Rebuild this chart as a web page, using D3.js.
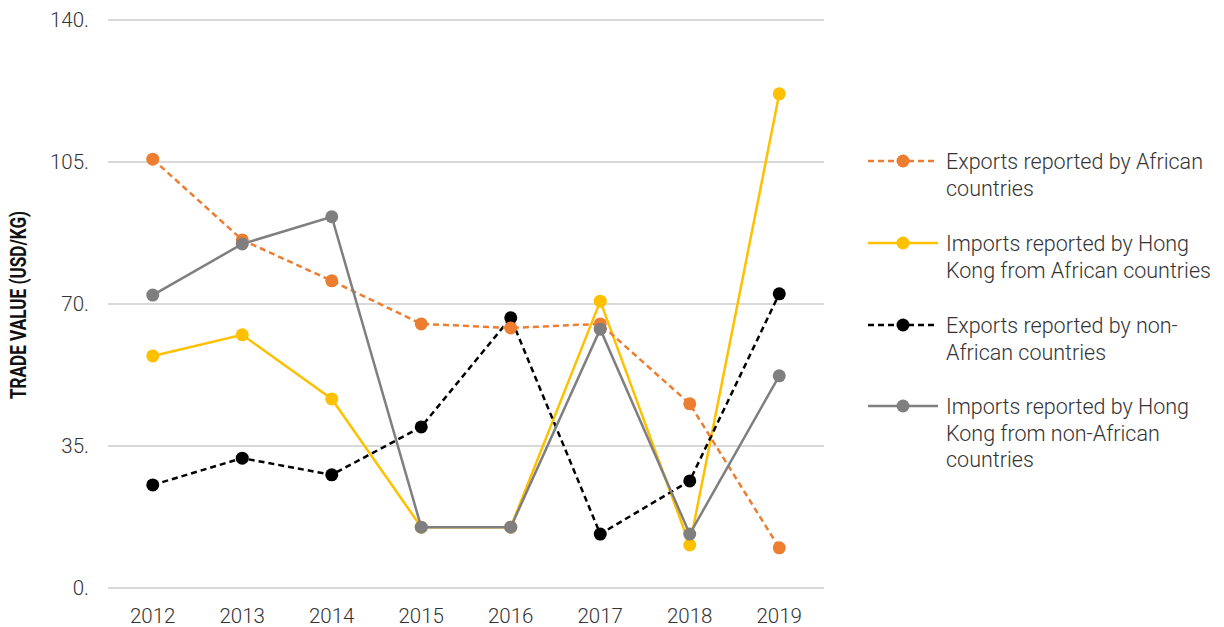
<!DOCTYPE html>
<meta charset="utf-8">
<script src="https://d3js.org/d3.v7.min.js"></script>
<style>
  body { margin: 0; background: #fff; }
  text { font-family: Roboto, "Open Sans", sans-serif; }
</style>
<div id="chart"></div>
<script>
// data
const years = ["2012", "2013", "2014", "2015", "2016", "2017", "2018", "2019"];
const exportsAfrican    = [105.7, 85.8, 75.7, 65.1, 64.1, 65.1, 45.4, 9.9];
const importsHKAfrican  = [57.2, 62.4, 46.6, 15.0, 15.0, 70.7, 10.6, 121.8];
const exportsNonAfrican = [25.4, 32.0, 27.9, 39.7, 66.6, 13.3, 26.4, 72.5];
const importsHKNonAfr   = [72.2, 84.8, 91.5, 15.0, 15.0, 63.8, 13.3, 52.3];
const yTicks = [0, 35, 70, 105, 140];

const series = [
  {name: ["Exports reported by African", "countries"], values: exportsAfrican, color: "#ED7D31", dash: "6,4"},
  {name: ["Imports reported by Hong", "Kong from African countries"], values: importsHKAfrican, color: "#FFC000", dash: null},
  {name: ["Exports reported by non-", "African countries"], values: exportsNonAfrican, color: "#000000", dash: "6,4"},
  {name: ["Imports reported by Hong", "Kong from non-African", "countries"], values: importsHKNonAfr, color: "#7F7F7F", dash: null}
];

const W = 1224, H = 627;
const svg = d3.select("#chart").append("svg")
  .attr("width", W).attr("height", H);

const x = d3.scalePoint().domain(years).range([108, 824]).padding(0.5);
const y = d3.scaleLinear().domain([0, 140]).range([588, 20]);

// grid lines
svg.append("g")
  .selectAll("line")
  .data(yTicks)
  .join("line")
    .attr("x1", 108).attr("x2", 824)
    .attr("y1", d => y(d)).attr("y2", d => y(d))
    .attr("stroke", "#d9d9d9").attr("stroke-width", 2);

// y tick labels
svg.append("g")
  .selectAll("text")
  .data(yTicks)
  .join("text")
    .attr("x", 89).attr("y", d => y(d) + 7)
    .attr("text-anchor", "end")
    .attr("font-size", 20.5).attr("font-weight", 300)
    .attr("fill", "#333")
    .text(d => d + ".");

// x labels
svg.append("g")
  .selectAll("text")
  .data(years)
  .join("text")
    .attr("x", d => x(d)).attr("y", 623)
    .attr("text-anchor", "middle")
    .attr("font-size", 20.5).attr("font-weight", 300)
    .attr("fill", "#333")
    .text(d => d);

// axis title (condensed look)
svg.append("text")
  .attr("transform", "translate(26,305) rotate(-90) scale(0.78,1)")
  .attr("text-anchor", "middle")
  .attr("font-family", "'Liberation Sans', Arial, sans-serif")
  .attr("font-weight", "bold")
  .attr("font-size", 22)
  .attr("fill", "#111")
  .text("TRADE VALUE (USD/KG)");

const line = d3.line()
  .x((d, i) => x(years[i]))
  .y(d => y(d));

// draw order: yellow, black, orange, gray
const order = [1, 2, 0, 3];
order.forEach(k => {
  const s = series[k];
  const g = svg.append("g");
  g.append("path")
    .datum(s.values)
    .attr("fill", "none")
    .attr("stroke", s.color)
    .attr("stroke-width", 2.5)
    .attr("stroke-dasharray", s.dash)
    .attr("d", line);
  g.selectAll("circle")
    .data(s.values)
    .join("circle")
      .attr("cx", (d, i) => x(years[i]))
      .attr("cy", d => y(d))
      .attr("r", 6.5)
      .attr("fill", s.color);
});

// legend
const legendY = [161, 243, 325, 406];
series.forEach((s, i) => {
  const g = svg.append("g").attr("transform", `translate(0,${legendY[i]})`);
  g.append("line")
    .attr("x1", 868).attr("x2", 938)
    .attr("y1", 0).attr("y2", 0)
    .attr("stroke", s.color).attr("stroke-width", 2.5)
    .attr("stroke-dasharray", s.dash);
  g.append("circle")
    .attr("cx", 903).attr("cy", 0).attr("r", 6.5)
    .attr("fill", s.color);
  const t = g.append("text")
    .attr("x", 946).attr("y", 8)
    .attr("font-size", 21.5).attr("font-weight", 300)
    .attr("fill", "#333");
  s.name.forEach((ln, j) => {
    t.append("tspan").attr("x", 946).attr("dy", j === 0 ? 0 : 26.5).text(ln);
  });
});
</script>
